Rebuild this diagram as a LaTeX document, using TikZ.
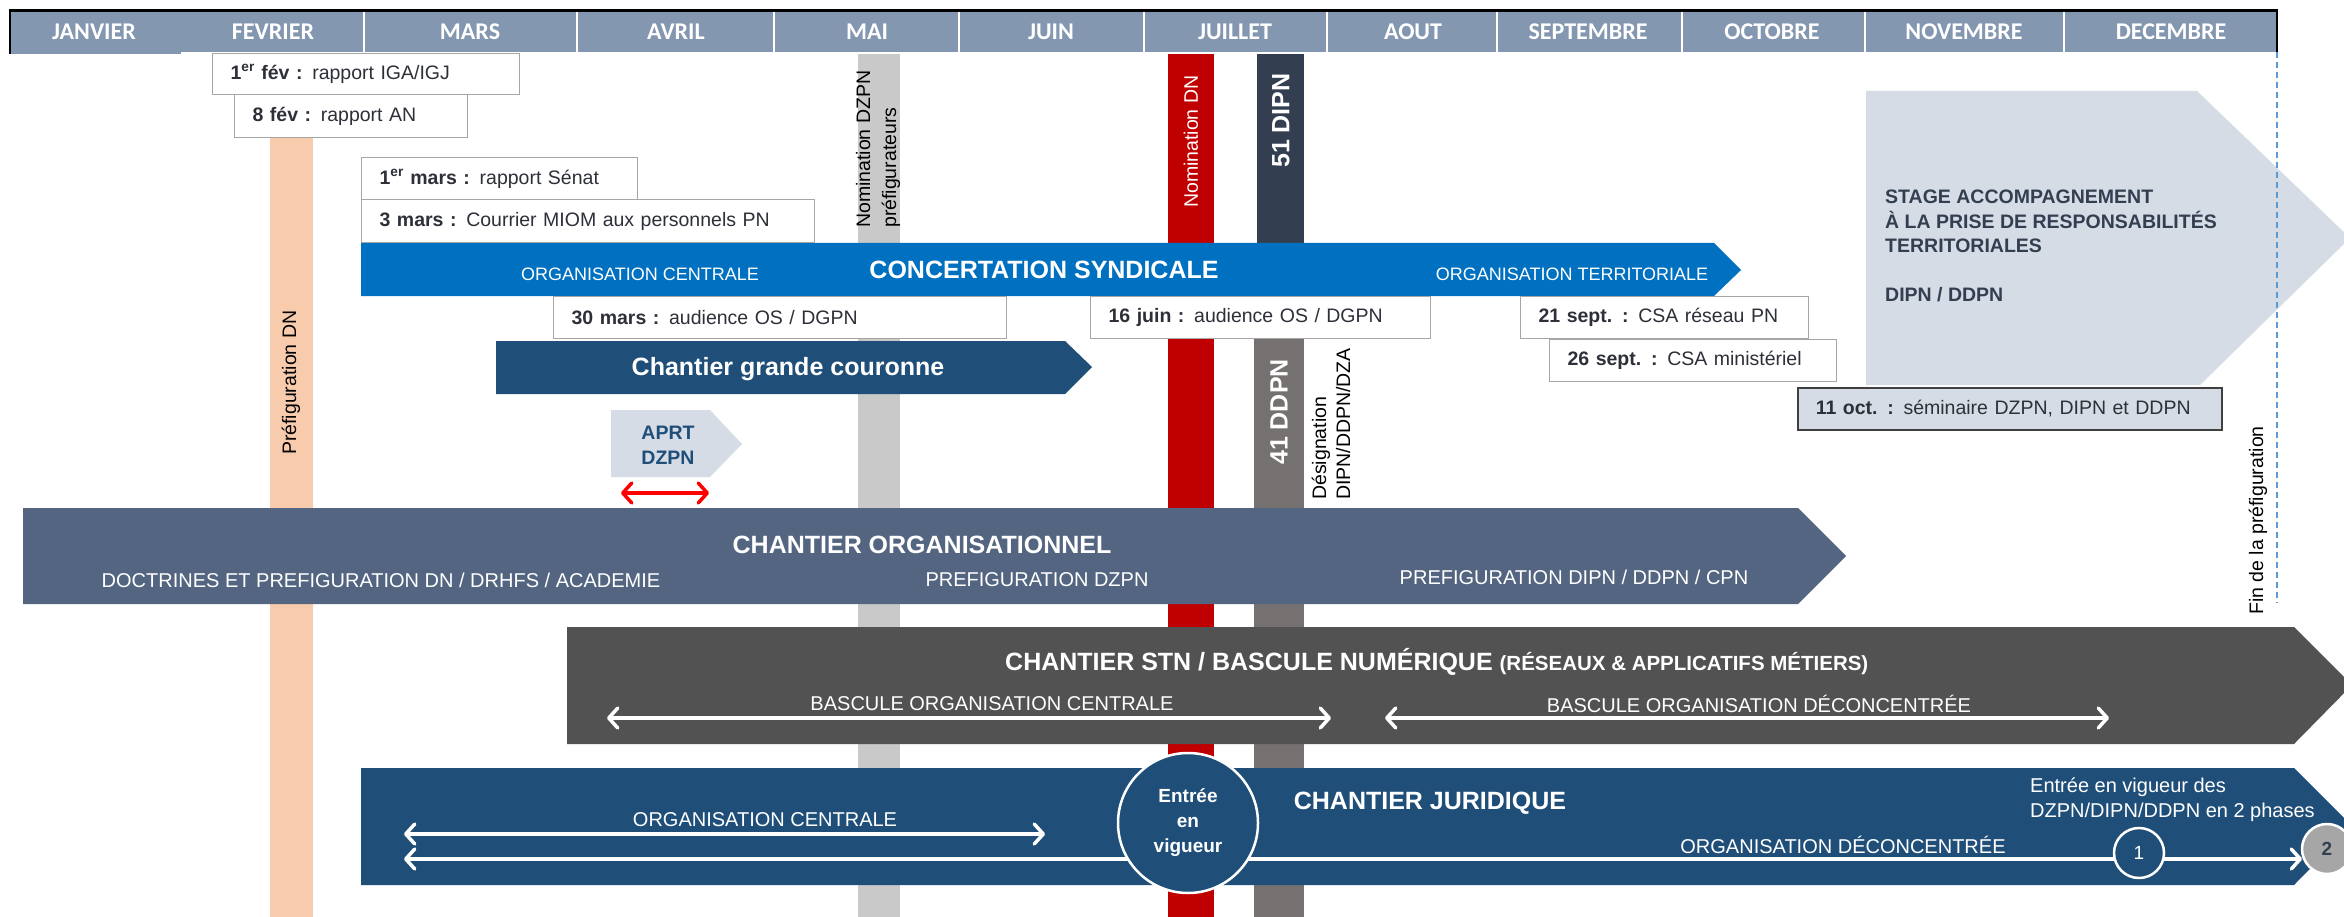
\documentclass[tikz,border=0pt]{standalone}
\usepackage{fontspec}
\setmainfont{Liberation Sans}
\newfontfamily\monthfont{Carlito}
\usetikzlibrary{arrows.meta}
\definecolor{headblue}{RGB}{132,151,176}
\definecolor{concblue}{RGB}{0,112,192}
\definecolor{navy}{RGB}{31,78,121}
\definecolor{slate}{RGB}{83,101,128}
\definecolor{charcoal}{RGB}{82,82,82}
\definecolor{pale}{RGB}{214,220,229}
\definecolor{peach}{RGB}{248,203,173}
\definecolor{silver}{RGB}{201,201,201}
\definecolor{crimson}{RGB}{192,0,0}
\definecolor{ink}{RGB}{51,63,80}
\definecolor{taupe}{RGB}{118,113,113}
\definecolor{boxline}{RGB}{166,166,166}
\definecolor{txt}{RGB}{45,48,56}
\definecolor{dashblue}{RGB}{91,155,213}
\definecolor{stone}{RGB}{166,166,166}

\begin{document}
\begin{tikzpicture}[x=1pt,y=-1pt]
	\tikzstyle{every node}+=[inner sep=0pt]
	\tikzstyle{monthname}=[text=white,font=\monthfont\bfseries\fontsize{24}{24}\selectfont]
	\tikzstyle{datebox}=[draw=boxline,line width=1.2pt,fill=white,anchor=north west,inner xsep=18pt,align=left,text=txt,font=\fontsize{19.5}{22}\selectfont]
	\tikzstyle{bartitle}=[text=white,font=\bfseries\fontsize{25}{28}\selectfont]
	\tikzstyle{sublabel}=[text=white,font=\fontsize{20}{22}\selectfont]
	\tikzstyle{vlabel}=[rotate=90,anchor=west,align=left,font=\fontsize{19.5}{26}\selectfont]
	\tikzstyle{dblarrow}=[white,line width=3.5pt,line cap=round,>={Straight Barb[length=9pt,width=20pt,round]},<->]
	\useasboundingbox (0,0) rectangle (2344,917);
	\fill [white] (0,0) rectangle (2344,917);
	\fill [headblue] (10,12) rectangle (2277,52);
	\fill [headblue] (10,52) rectangle (181,54);
	\draw [black,line width=3pt] (9,10.5) -- (2278,10.5);
	\draw [black,line width=2pt] (10,10) -- (10,54);
	\draw [black,line width=2pt] (2277,10) -- (2277,52);
	\draw [white,line width=2.5pt] (364,12) -- (364,52);
	\draw [white,line width=2.5pt] (577,12) -- (577,52);
	\draw [white,line width=2.5pt] (774,12) -- (774,52);
	\draw [white,line width=2.5pt] (959,12) -- (959,52);
	\draw [white,line width=2.5pt] (1144,12) -- (1144,52);
	\draw [white,line width=2.5pt] (1327,12) -- (1327,52);
	\draw [white,line width=2.5pt] (1497,12) -- (1497,52);
	\draw [white,line width=2.5pt] (1682,12) -- (1682,52);
	\draw [white,line width=2.5pt] (1865,12) -- (1865,52);
	\draw [white,line width=2.5pt] (2064,12) -- (2064,52);
	\node [monthname] (jan) at (94,32) {JANVIER};
	\node [monthname] (feb) at (273,32) {FEVRIER};
	\node [monthname] (mar) at (470,32) {MARS};
	\node [monthname] (apr) at (676,32) {AVRIL};
	\node [monthname] (may) at (867,32) {MAI};
	\node [monthname] (jun) at (1051,32) {JUIN};
	\node [monthname] (jul) at (1235,32) {JUILLET};
	\node [monthname] (aug) at (1413,32) {AOUT};
	\node [monthname] (sep) at (1588,32) {SEPTEMBRE};
	\node [monthname] (oct) at (1772,32) {OCTOBRE};
	\node [monthname] (nov) at (1964,32) {NOVEMBRE};
	\node [monthname] (dec) at (2171,32) {DECEMBRE};
	\fill [peach] (270,137) rectangle (313,917);
	\fill [silver] (858,54) rectangle (900,917);
	\fill [crimson] (1168,54) rectangle (1214,917);
	\fill [ink] (1257,54) rectangle (1304,243);
	\fill [taupe] (1254,339) rectangle (1304,917);
	\node [vlabel] (prefdn) at (291,455) {Préfiguration DN};
	\node [vlabel] (nomdzpn) at (878,228) {Nomination DZPN\\préfigurateurs};
	\node [vlabel,text=white] (nomdn) at (1191,208) {Nomination DN};
	\node [vlabel,text=white,font=\bfseries\fontsize{25}{28}\selectfont] (dipn) at (1281,168) {51 DIPN};
	\node [vlabel,text=white,font=\bfseries\fontsize{25}{28}\selectfont] (ddpn) at (1279,465) {41 DDPN};
	\node [vlabel,font=\fontsize{19.5}{24}\selectfont] (desig) at (1331,500) {Désignation\\DIPN/DDPN/DZA};
	\fill [pale] (1866,91) -- (2197,91) -- (2350,238) -- (2200,385) -- (1866,385) -- cycle;
	\node [anchor=north west,align=left,text=ink,font=\bfseries\fontsize{19.5}{24.5}\selectfont] (stage) at (1885,190) {STAGE ACCOMPAGNEMENT\\À LA PRISE DE RESPONSABILITÉS\\TERRITORIALES\\[24pt]DIPN / DDPN};
	\draw [dashblue,line width=1.2pt,dash pattern=on 6pt off 4pt] (2277,52) -- (2277,603);
	\node [vlabel] (finpref) at (2258,615) {Fin de la préfiguration};
	\fill [concblue] (361,243) -- (1714,243) -- (1741,270) -- (1714,296) -- (361,296) -- cycle;
	\node [sublabel,font=\fontsize{18}{20}\selectfont] (concorgc) at (640,274) {ORGANISATION CENTRALE};
	\node [bartitle] (conc) at (1044,270) {CONCERTATION SYNDICALE};
	\node [sublabel,font=\fontsize{18}{20}\selectfont] (concorgt) at (1572,274) {ORGANISATION TERRITORIALE};
	\fill [navy] (496,341) -- (1065,341) -- (1092,367) -- (1065,394) -- (496,394) -- cycle;
	\node [bartitle] (couronne) at (788,369) {Chantier grande couronne};
	\fill [pale] (611,410) -- (710,410) -- (742,444) -- (710,477) -- (611,477) -- cycle;
	\node [align=center,text=navy,font=\bfseries\fontsize{19.5}{25}\selectfont] (aprt) at (668,445) {APRT\\DZPN};
	\coordinate (aprtl) at (621,493);
	\coordinate (aprtr) at (709,493);
	\draw [dblarrow,red] (aprtl) -- (aprtr);
	\node [datebox,minimum height=41pt,text width=271pt] (iga) at (212,53) {\textbf{1\textsuperscript{er} fév :} rapport IGA/IGJ};
	\node [datebox,minimum height=43pt,text width=197pt] (an) at (234,94) {\textbf{8 fév :} rapport AN};
	\node [datebox,minimum height=42pt,text width=240pt] (senat) at (361,157) {\textbf{1\textsuperscript{er} mars :} rapport Sénat};
	\node [datebox,minimum height=43pt,text width=417pt] (miom) at (361,199) {\textbf{3 mars :} Courrier MIOM aux personnels PN};
	\node [datebox,minimum height=42pt,text width=417pt] (os30) at (553,296) {\textbf{30 mars :} audience OS / DGPN};
	\node [datebox,minimum height=42pt,text width=304pt] (os16) at (1090,296) {\textbf{16 juin :} audience OS / DGPN};
	\node [datebox,minimum height=42pt,text width=252pt] (csa21) at (1520,296) {\textbf{21 sept. :} CSA réseau PN};
	\node [datebox,minimum height=42pt,text width=251pt] (csa26) at (1549,339) {\textbf{26 sept. :} CSA ministériel};
	\node [datebox,draw=black!75,line width=1.5pt,fill=pale,minimum height=42pt,text width=388pt] (sem11) at (1797,387) {\textbf{11 oct. :} séminaire DZPN, DIPN et DDPN};
	\fill [slate] (23,508) -- (1798,508) -- (1846,556) -- (1798,604) -- (23,604) -- cycle;
	\node [bartitle] (orga) at (922,545) {CHANTIER ORGANISATIONNEL};
	\node [sublabel] (orgadn) at (381,580) {DOCTRINES ET PREFIGURATION DN / DRHFS / ACADEMIE};
	\node [sublabel] (orgadz) at (1037,580) {PREFIGURATION DZPN};
	\node [sublabel] (orgadi) at (1574,577) {PREFIGURATION DIPN / DDPN / CPN};
	\fill [charcoal] (567,627) -- (2294,627) -- (2352,685) -- (2294,744) -- (567,744) -- cycle;
	\node [bartitle,anchor=west] (stn) at (1005,662) {CHANTIER STN / BASCULE NUMÉRIQUE {\fontsize{20.5}{22}\selectfont(RÉSEAUX \& APPLICATIFS MÉTIERS)}};
	\coordinate (stna) at (607,718);
	\coordinate (stnb) at (1331,718);
	\coordinate (stnc) at (1385,718);
	\coordinate (stnd) at (2109,718);
	\draw [dblarrow] (stna) -- (stnb);
	\draw [dblarrow] (stnc) -- (stnd);
	\node [sublabel] (bascc) at (992,704) {BASCULE ORGANISATION CENTRALE};
	\node [sublabel] (bascd) at (1759,704) {BASCULE ORGANISATION DÉCONCENTRÉE};
	\fill [navy] (361,768) -- (2294,768) -- (2352,826) -- (2294,885) -- (361,885) -- cycle;
	\coordinate (jura) at (404,834);
	\coordinate (jurb) at (1045,834);
	\coordinate (jurc) at (404,859);
	\coordinate (jurd) at (2302,859);
	\draw [dblarrow] (jura) -- (jurb);
	\draw [dblarrow] (jurc) -- (jurd);
	\node [sublabel] (jurorgc) at (765,820) {ORGANISATION CENTRALE};
	\node [bartitle] (jur) at (1430,803) {CHANTIER JURIDIQUE};
	\node [sublabel] (jurorgd) at (1843,845) {ORGANISATION DÉCONCENTRÉE};
	\node [anchor=north west,align=left,text=white,font=\fontsize{20}{25}\selectfont] (phases) at (2030,778) {Entrée en vigueur des\\DZPN/DIPN/DDPN en 2 phases};
	\node [circle,draw=white,line width=2.5pt,fill=navy,minimum size=140pt,align=center,text=white,font=\bfseries\fontsize{19}{25}\selectfont] (entree) at (1188,823) {Entrée\\en\\vigueur};
	\node [circle,draw=white,line width=2.5pt,fill=navy,minimum size=50pt,text=white,font=\fontsize{19}{19}\selectfont] (ph1) at (2139,853) {1};
	\node [circle,draw=white,line width=2.5pt,fill=stone,minimum size=50pt,text=ink,font=\bfseries\fontsize{19}{19}\selectfont] (ph2) at (2327,849) {2};
\end{tikzpicture}
\end{document}
